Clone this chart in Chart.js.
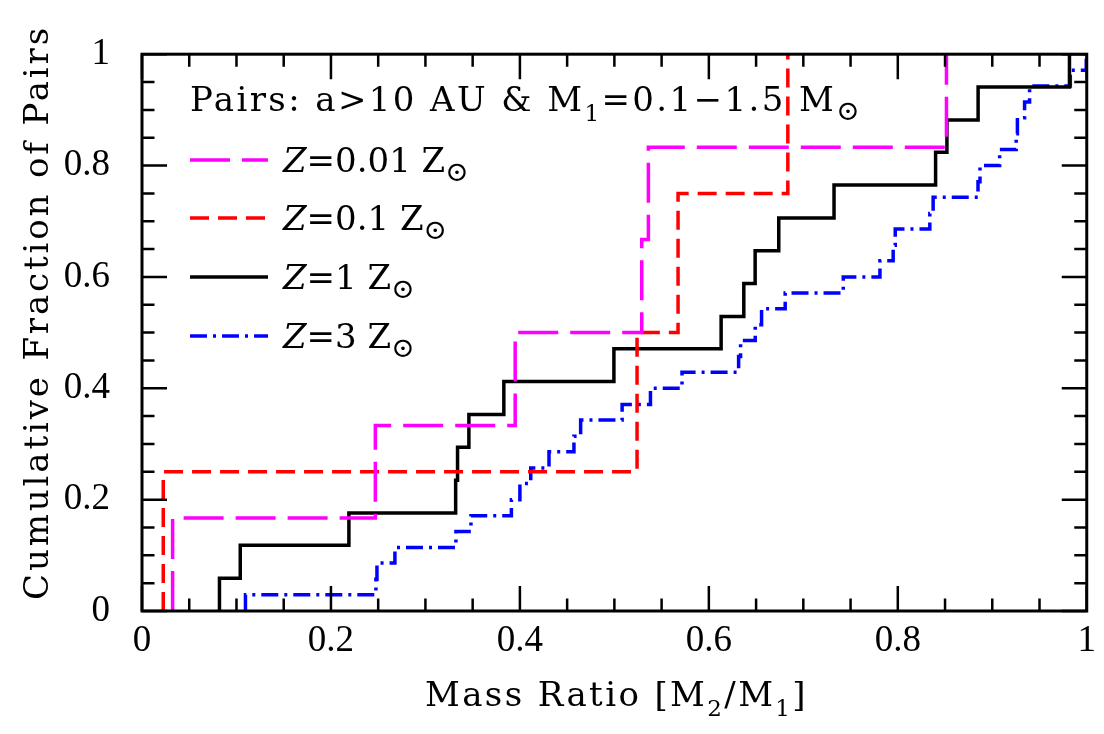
<!DOCTYPE html>
<html><head><meta charset="utf-8">
<script src="https://cdn.jsdelivr.net/npm/chart.js@4.4.1/dist/chart.umd.min.js"></script>
<style>html,body{margin:0;padding:0;background:#fff;}canvas{display:block;}</style>
</head><body>
<canvas id="c" width="1104" height="734"></canvas>
<script>
// ---- tick labels ----
const xTickValues = [0, 0.2, 0.4, 0.6, 0.8, 1];
const xTickLabels = ['0', '0.2', '0.4', '0.6', '0.8', '1'];
const yTickValues = [0, 0.2, 0.4, 0.6, 0.8, 1];
const yTickLabels = ['0', '0.2', '0.4', '0.6', '0.8', '1'];

// ---- series: step positions (mass ratio) and cumulative fraction after each step ----
const z001Label = '0.01';
const z001X = [0.0324, 0.247, 0.395, 0.529, 0.536, 0.8515];
const z001Y = [0.167, 0.333, 0.5, 0.667, 0.833, 1.0];

const z01Label = '0.1';
const z01X = [0.0225, 0.524, 0.5674, 0.6836];
const z01Y = [0.25, 0.5, 0.75, 1.0];

const z1Label = '1';
const z1X = [0.082, 0.104, 0.219, 0.332, 0.334, 0.346, 0.383, 0.4995, 0.613, 0.637, 0.649, 0.674, 0.7325, 0.840, 0.852, 0.885, 0.9817];
const z1Y = [0.059, 0.118, 0.176, 0.235, 0.294, 0.353, 0.412, 0.471, 0.529, 0.588, 0.647, 0.706, 0.765, 0.824, 0.882, 0.941, 1.0];

const z3Label = '3';
const z3X = [0.1095, 0.2476, 0.2487, 0.2677, 0.3323, 0.3482, 0.3910, 0.4000, 0.4115, 0.4308,
             0.4572, 0.4643, 0.5082, 0.5382, 0.5716, 0.6315, 0.6336, 0.6491, 0.6558, 0.6808,
             0.7423, 0.7811, 0.7951, 0.7973, 0.8339, 0.8374, 0.8849, 0.8870, 0.9078, 0.9253,
             0.9266, 0.9342, 0.9395, 0.9826, 0.9995];
const z3Y = [0.029, 0.057, 0.086, 0.114, 0.143, 0.171, 0.200, 0.229, 0.257, 0.286,
             0.314, 0.343, 0.371, 0.400, 0.429, 0.457, 0.486, 0.514, 0.543, 0.571,
             0.600, 0.629, 0.657, 0.686, 0.714, 0.743, 0.771, 0.800, 0.829, 0.857,
             0.886, 0.914, 0.943, 0.971, 1.000];

const annotationText = ['Pairs: a>10 AU & M', '1', '=0.1\u22121.5 M', '\u2299'];
const xTitle = ['Mass Ratio [M', '2', '/M', '1', ']'];
const yTitle = 'Cumulative Fraction of Pairs';

function steps(xs, ys) {
  const pts = [{x: xs[0], y: 0}];
  xs.forEach((x, i) => pts.push({x: x, y: ys[i]}));
  return pts;
}

const series = [
  {lab: z001Label, data: steps(z001X, z001Y), color: '#ff00ff', dash: [40, 12]},
  {lab: z01Label,  data: steps(z01X, z01Y),   color: '#ff0000', dash: [19, 9]},
  {lab: z1Label,   data: steps(z1X, z1Y),     color: '#000000', dash: []},
  {lab: z3Label,   data: steps(z3X, z3Y),     color: '#0000ff', dash: [17, 6, 3, 6]}
];

const SERIF = '"DejaVu Serif", "Liberation Serif", serif';
const TICKF = '"Liberation Serif", "DejaVu Serif", serif';

function segWidth(ctx, segs) {
  let w = 0, n = 0;
  ctx.letterSpacing = '0px';
  for (const s of segs) { ctx.font = s.font; w += ctx.measureText(s.t).width; n += s.t.length; }
  return {w, n};
}
function drawSegs(ctx, segs, x, y, sp) {
  let cx = x;
  for (const s of segs) {
    ctx.font = s.font;
    ctx.letterSpacing = '0px';
    const w = ctx.measureText(s.t).width + s.t.length * sp;
    ctx.letterSpacing = sp + 'px';
    ctx.fillText(s.t, cx, y + (s.dy || 0));
    cx += w;
  }
  ctx.letterSpacing = '0px';
  return cx;
}
function fitSpacing(ctx, segs, target) {
  const m = segWidth(ctx, segs);
  return Math.max(0, (target - m.w) / m.n);
}

const decor = {
  id: 'decor',
  afterDatasetsDraw(chart) {
    const ctx = chart.ctx;
    const xs = chart.scales.x, ys = chart.scales.y;
    const L = chart.chartArea.left, R = chart.chartArea.right, T = chart.chartArea.top, B = chart.chartArea.bottom;
    ctx.save();
    ctx.strokeStyle = '#000';
    ctx.lineWidth = 3;
    ctx.setLineDash([]);
    ctx.strokeRect(L, T, R - L, B - T);
    ctx.lineWidth = 2.5;
    ctx.beginPath();
    for (let i = 0; i <= 20; i++) {
      const v = i * 0.05;
      const len = (i % 4 === 0) ? 25 : 12.5;
      const px = xs.getPixelForValue(v);
      ctx.moveTo(px, B); ctx.lineTo(px, B - len);
      ctx.moveTo(px, T); ctx.lineTo(px, T + len);
      const py = ys.getPixelForValue(v);
      ctx.moveTo(L, py); ctx.lineTo(L + len, py);
      ctx.moveTo(R, py); ctx.lineTo(R - len, py);
    }
    ctx.stroke();

    ctx.fillStyle = '#000';
    ctx.textBaseline = 'alphabetic';
    ctx.textAlign = 'left';
    const F = '34px ' + SERIF, FS = '23px ' + SERIF, FI = 'italic 34px ' + SERIF, FO = '28px ' + SERIF;

    // annotation
    const ann = [
      {t: annotationText[0], font: F},
      {t: annotationText[1], font: FS, dy: 10},
      {t: annotationText[2], font: F},
      {t: annotationText[3], font: FO, dy: 9}
    ];
    drawSegs(ctx, ann, 190, 111, fitSpacing(ctx, ann, 672));

    // legend
    const rowY = [160, 218, 277, 336];
    const row0 = [{t: 'Z', font: FI}, {t: '=' + series[0].lab + ' ', font: F}, {t: 'Z', font: F}, {t: '\u2299', font: FO, dy: 9}];
    const sp = fitSpacing(ctx, row0, 165);
    series.forEach((s, i) => {
      const y = rowY[i];
      ctx.strokeStyle = s.color;
      ctx.lineWidth = 3.5;
      ctx.setLineDash(s.dash);
      ctx.beginPath(); ctx.moveTo(190, y); ctx.lineTo(268, y); ctx.stroke();
      ctx.setLineDash([]);
      const segs = [{t: 'Z', font: FI}, {t: '=' + s.lab + ' ', font: F}, {t: 'Z', font: F}, {t: '\u2299', font: FO, dy: 9}];
      drawSegs(ctx, segs, 283, y + 12, sp);
    });

    // x title
    const xt = [
      {t: xTitle[0], font: F}, {t: xTitle[1], font: FS, dy: 10}, {t: xTitle[2], font: F},
      {t: xTitle[3], font: FS, dy: 10}, {t: xTitle[4], font: F}
    ];
    drawSegs(ctx, xt, 425, 706, fitSpacing(ctx, xt, 383));

    // y title
    ctx.save();
    ctx.translate(48, 600);
    ctx.rotate(-Math.PI / 2);
    const yt = [{t: yTitle, font: F}];
    drawSegs(ctx, yt, 0, 0, fitSpacing(ctx, yt, 575));
    ctx.restore();
    ctx.restore();
  }
};

new Chart(document.getElementById('c'), {
  type: 'scatter',
  data: {
    datasets: series.map(s => ({
      label: 'Z=' + s.lab + ' Z\u2299',
      data: s.data,
      showLine: true,
      stepped: 'before',
      borderColor: s.color,
      backgroundColor: s.color,
      borderWidth: 3.5,
      borderDash: s.dash,
      pointRadius: 0,
      fill: false,
      clip: 4
    }))
  },
  options: {
    responsive: false,
    animation: false,
    devicePixelRatio: 1,
    layout: {padding: {left: 0, top: 27, right: 15, bottom: 0}},
    plugins: {legend: {display: false}, tooltip: {enabled: false}, title: {display: false}},
    scales: {
      x: {
        type: 'linear', min: 0, max: 1,
        afterBuildTicks: (sc) => { sc.ticks = xTickValues.map(v => ({value: v})); },
        afterFit: (sc) => { sc.height = 123; },
        ticks: {
          callback: (v) => { const i = xTickValues.indexOf(v); return i >= 0 ? xTickLabels[i] : ''; },
          color: '#000', font: {family: TICKF, size: 37}, padding: 8, maxRotation: 0, autoSkip: false
        },
        grid: {display: false, drawTicks: false},
        border: {display: false}
      },
      y: {
        type: 'linear', min: 0, max: 1,
        afterBuildTicks: (sc) => { sc.ticks = yTickValues.map(v => ({value: v})); },
        afterFit: (sc) => { sc.width = 142; },
        ticks: {
          callback: (v) => { const i = yTickValues.indexOf(v); return i >= 0 ? yTickLabels[i] : ''; },
          color: '#000', font: {family: TICKF, size: 37}, padding: 32, autoSkip: false
        },
        grid: {display: false, drawTicks: false},
        border: {display: false}
      }
    }
  },
  plugins: [decor]
});
</script>
</body></html>
